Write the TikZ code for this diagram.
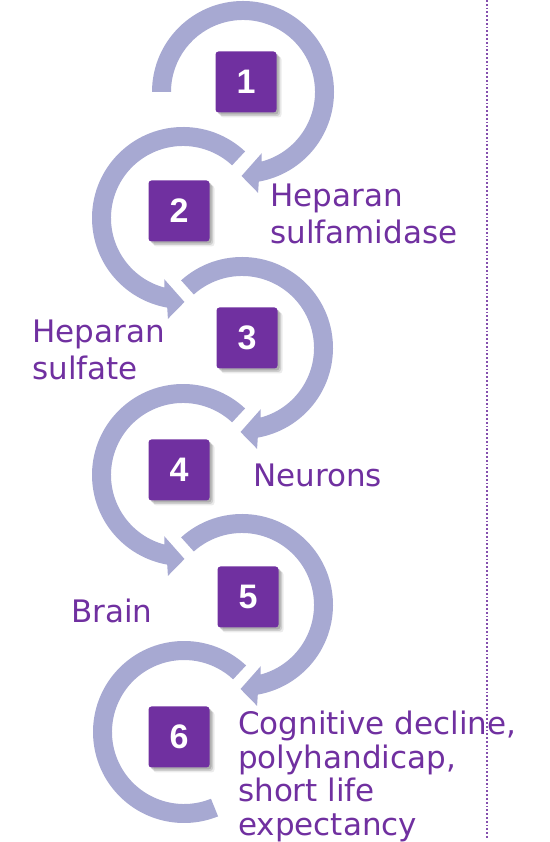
\documentclass[tikz,border=0pt]{standalone}
\usepackage{fontspec}
\setmainfont{DejaVu Sans}
\newfontfamily\numfont{Liberation Sans}
\usetikzlibrary{shadows}
\definecolor{boxpurple}{RGB}{112,48,160}
\definecolor{arcblue}{RGB}{167,169,210}
\newcommand\rightarc[2]{%
  \fill[arcfill,shift={(#1)}] (#2:91) arc[start angle=#2,end angle=-80,radius=91]
    -- (-81.5:102) -- (-91:84) -- (-73:64) -- (-75:72)
    arc[start angle=-75,end angle=#2,radius=72] -- cycle;}
\newcommand\leftarc[2]{%
  \fill[arcfill,shift={(#1)}] (#2:91) arc[start angle=#2,end angle=260,radius=91]
    -- (261.5:102) -- (271:84) -- (253:64) -- (255:72)
    arc[start angle=255,end angle=#2,radius=72] -- cycle;}
\begin{document}
\begin{tikzpicture}[x=1pt,y=1pt,
  arcfill/.style={fill=arcblue},
  numbox/.style={fill=boxpurple, minimum size=61pt, inner sep=0pt, rounded corners=3pt,
    text=white, font=\numfont\bfseries\fontsize{34}{40}\selectfont,
    drop shadow={shadow xshift=5pt,shadow yshift=-5pt,opacity=0.08,fill=black},
    drop shadow={shadow xshift=3.5pt,shadow yshift=-3.5pt,opacity=0.12,fill=black},
    drop shadow={shadow xshift=2pt,shadow yshift=-2pt,opacity=0.15,fill=black}},
  lbl/.style={anchor=base west, inner sep=0pt, text=boxpurple, font=\fontsize{31}{37}\selectfont},
  dotline/.style={draw=boxpurple!85, line width=1.8pt, dash pattern=on 1.8pt off 2pt}]
\useasboundingbox (0,0) rectangle (549,842);
% arc centres
\coordinate (c1) at (243,750);
\coordinate (c2) at (183,624);
\coordinate (c3) at (242,494);
\coordinate (c4) at (183,367);
\coordinate (c5) at (242,237);
\coordinate (c6) at (184,110);
% arcs
\rightarc{c1}{180}
\leftarc{c2}{47}
\rightarc{c3}{132}
\leftarc{c4}{47}
\rightarc{c5}{132}
\fill[arcfill,shift={(c6)}] (47:91) arc[start angle=47,end angle=292,radius=91]
  -- (292:72) arc[start angle=292,end angle=47,radius=72] -- cycle;
% boxes
\node[numbox] (b1) at (246,760) {1};
\node[numbox] (b2) at (179,631) {2};
\node[numbox] (b3) at (247,504) {3};
\node[numbox] (b4) at (179,372) {4};
\node[numbox] (b5) at (248,245) {5};
\node[numbox] (b6) at (179,105) {6};
% labels
\node[lbl] (t1a) at (270,635) {Heparan};
\node[lbl] (t1b) at (270,598) {sulfamidase};
\node[lbl] (t2a) at (32,499) {Heparan};
\node[lbl] (t2b) at (32,462) {sulfate};
\node[lbl] (t3) at (253,355) {Neurons};
\node[lbl] (t4) at (71,219) {Brain};
\node[lbl] (t5a) at (238,107) {Cognitive decline,};
\node[lbl] (t5b) at (238,73.5) {polyhandicap,};
\node[lbl] (t5c) at (238,40) {short life};
\node[lbl] (t5d) at (238,6.5) {expectancy};
% dotted divider
\coordinate (dtop) at (487,842);
\coordinate (dbot) at (487,4);
\draw[dotline] (dtop) -- (dbot);
\end{tikzpicture}
\end{document}
